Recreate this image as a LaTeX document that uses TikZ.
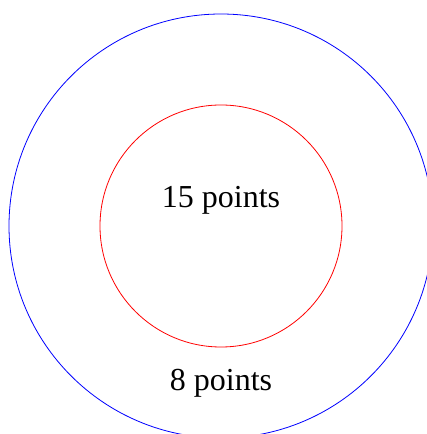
\documentclass[tikz,border=0pt]{standalone}
\usepackage{fontspec}
\setmainfont{Liberation Serif}
\begin{document}
\begin{tikzpicture}[x=1pt,y=1pt]
  % Frame of the picture
  \useasboundingbox (0,0) rectangle (427,434);
  \clip (0,0) rectangle (427,434);

  % Centre O and radii
  \coordinate (O) at (221,208);
  \def\rout{212}
  \def\rin{121}

  % Outer and inner rings
  \draw[blue, line width=0.8pt] (O) circle (\rout);
  \draw[red, line width=0.8pt] (O) circle (\rin);

  % Labels
  \node[anchor=base, inner sep=0pt, font=\fontsize{32}{36}\selectfont] (inner) at (221,226) {15 points};
  \node[anchor=base, inner sep=0pt, font=\fontsize{32}{36}\selectfont] (outer) at (221,43) {8 points};
\end{tikzpicture}
\end{document}
